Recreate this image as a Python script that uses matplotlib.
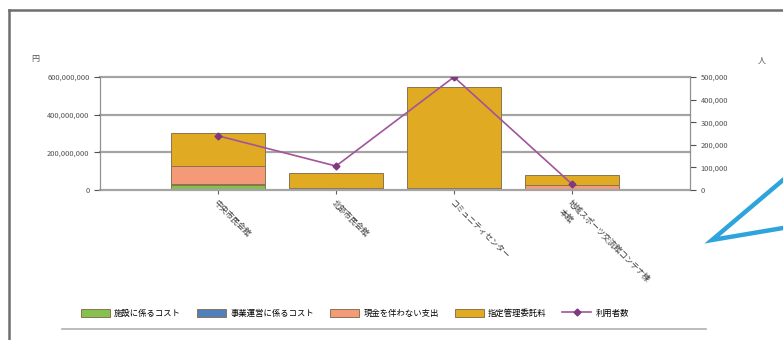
import numpy as np
import matplotlib
matplotlib.use("Agg")
import matplotlib.pyplot as plt
from matplotlib.lines import Line2D
from matplotlib.ticker import FuncFormatter

plt.rcParams['font.family'] = ['Noto Sans CJK JP', 'DejaVu Sans']

# facilities and their cost breakdown (yen) / user counts (people)
categories = ["中央市民会館", "北部市民会館", "コミュニティセンター", "地域スポーツ交流館コンテナ棟\n本館"]
facility_cost = [27e6, 2e6, 3e6, 2e6]
operation_cost = [3e6, 1e6, 1e6, 1e6]
noncash_cost = [100e6, 10e6, 5e6, 25e6]
mgmt_fee = [172e6, 77e6, 539e6, 52e6]
users = [240000, 106000, 500000, 26000]

series_labels = ["施設に係るコスト", "事業運営に係るコスト", "現金を伴わない支出", "指定管理委託料"]
series_colors = ["#86c04f", "#4f7fbd", "#f59a78", "#e0aa22"]
line_label = "利用者数"

fig = plt.figure(figsize=(7.83, 3.4), dpi=100)
ax = fig.add_axes([100 / 783, 1 - 190 / 340, 590 / 783, 113 / 340])
ax2 = ax.twinx()

x = np.arange(1, len(categories) + 1)
bottom = np.zeros(len(categories))
for vals, lab, col in zip([facility_cost, operation_cost, noncash_cost, mgmt_fee],
                          series_labels, series_colors):
    ax.bar(x, vals, width=0.8, bottom=bottom, color=col, edgecolor="#8a7550",
           linewidth=0.7, label=lab, zorder=3)
    bottom += np.array(vals)

ax2.plot(x, users, color="#a0559a", linewidth=1.2, marker="D", markersize=3.5,
         markerfacecolor="#7e3a7e", markeredgecolor="#7e3a7e", label=line_label, zorder=5)

ax.set_xlim(0, 5)
ax.set_ylim(0, 600e6)
ax2.set_ylim(0, 500000)
left_ticks = [0, 200e6, 400e6, 600e6]
ax.set_yticks(left_ticks)
ax2.set_yticks(np.arange(0, 500001, 100000))
fmt = FuncFormatter(lambda v, p: "{:,.0f}".format(v))
ax.yaxis.set_major_formatter(fmt)
ax2.yaxis.set_major_formatter(fmt)

# horizontal gridlines, drawn unclipped so the top one keeps full width
for t in left_ticks:
    ax.axhline(t, color="#a4a4a4", linewidth=1.6, zorder=1 if t else 4, clip_on=False)
for a in (ax, ax2):
    for s in ("top", "bottom"):
        a.spines[s].set_visible(False)
    a.spines["left"].set_color("#909090")
    a.spines["right"].set_color("#909090")
    a.tick_params(axis="y", labelsize=5.4, colors="#505050", length=4, width=0.8)

ax.set_xticks(x)
ax.set_xticklabels(categories, rotation=-45, ha="left", va="top", linespacing=1.5,
                   rotation_mode="anchor", fontsize=5.8, color="#383838")
ax.tick_params(axis="x", length=3, colors="#606060", labelcolor="#383838", pad=3)

fig.text(35 / 783, 1 - 58 / 340, "円", fontsize=5.8, color="#505050", ha="center", va="center")
fig.text(762 / 783, 1 - 60 / 340, "人", fontsize=5.8, color="#505050", ha="center", va="center")

h1, l1 = ax.get_legend_handles_labels()
h2, l2 = ax2.get_legend_handles_labels()
fig.legend(h1 + h2, l1 + l2, loc="center", bbox_to_anchor=(355 / 783, 1 - 313 / 340),
           ncol=5, frameon=False, fontsize=6, handlelength=3.5, handleheight=1.1,
           columnspacing=1.9, handletextpad=0.5)

# frame around the panel and separator under the legend
fig.add_artist(Line2D([9 / 783, 9 / 783], [0, 1 - 10 / 340], color="#6e6e6e", linewidth=1.8))
fig.add_artist(Line2D([9 / 783, 1], [1 - 10 / 340, 1 - 10 / 340], color="#6e6e6e", linewidth=1.8))
fig.add_artist(Line2D([62 / 783, 706 / 783], [1 - 329 / 340, 1 - 329 / 340], color="#b0b0b0", linewidth=1.2))

# callout pointer on the right edge
fig.add_artist(Line2D([1, 712 / 783, 1], [1 - 180 / 340, 1 - 240 / 340, 1 - 228 / 340],
                      color="#2ea4dc", linewidth=3.2, solid_joinstyle="miter"))

fig.savefig("out.png", dpi=100, facecolor="white")
